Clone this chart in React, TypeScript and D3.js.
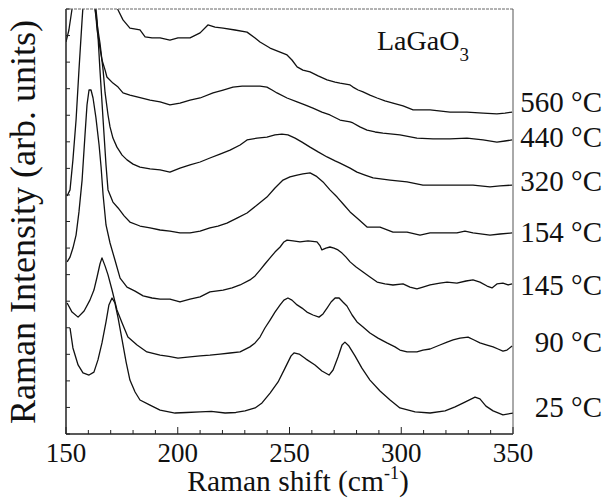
import React from "react";
import * as d3 from "d3";

type P = [number, number];

const xTicks = [150, 200, 250, 300, 350];
const minorStep = 10;
const yTickCount = 16;

const labels = ["560 °C", "440 °C", "320 °C", "154 °C", "145 °C", "90 °C", "25 °C"];
const labelBaselines = [112, 147, 191, 242, 295, 352, 417];

const s25: P[] = [
  [151.8,3.99],[153.1,3.24],[155.4,2.6],[157.6,2.3],[160.3,2.22],[162.5,2.33],[164.3,2.79],[166.1,3.43],[167.9,4.22],[169.2,4.86],[170.6,5.12],[171.9,4.93],[173.3,4.37],[175.1,3.54],[176.9,2.71],[178.6,2.03],[180.9,1.58],[183.1,1.28],[187.6,1.09],[192.1,0.9],[198.8,0.79],[204,0.81],[210,0.83],[215,0.85],[221.2,0.79],[226,0.81],[230.1,0.87],[234.6,0.98],[237.7,1.17],[241.3,1.54],[244.9,1.96],[248,2.48],[250.7,2.94],[252,3.05],[254.3,3.01],[257.4,2.82],[261.4,2.6],[264.5,2.37],[267.7,2.22],[269.5,2.41],[271.7,2.9],[273.5,3.35],[274.8,3.46],[276.6,3.31],[279.3,2.94],[282.4,2.48],[286,2.03],[290.5,1.62],[295,1.28],[299.4,0.98],[306.2,0.83],[312.9,0.79],[319.6,0.87],[324.1,1.02],[328.5,1.2],[333,1.39],[335.2,1.32],[337.9,1.05],[341.1,0.87],[345.5,0.72],[350,0.79]
];

const s90: P[] = [
  [150.5,4.93],[152.7,4.59],[155.4,4.4],[158.1,4.63],[160.7,5.04],[162.5,5.42],[163.9,5.91],[165.2,6.4],[166.1,6.63],[167.5,6.32],[168.8,5.99],[170.6,5.42],[172.8,4.67],[175.1,4.18],[177.7,3.65],[181.8,3.35],[186.2,3.09],[192.1,2.97],[196,2.92],[200.1,2.86],[205.5,2.9],[210,2.94],[214.4,2.97],[218.9,3.01],[223.4,3.05],[227.9,3.09],[232.3,3.28],[234.6,3.43],[236.8,3.65],[239,3.99],[241.3,4.29],[243.5,4.59],[245.8,4.86],[247.5,5.04],[249.3,5.12],[251.1,5.04],[253.4,4.86],[255.6,4.74],[257.8,4.59],[260.5,4.48],[263.2,4.4],[265,4.52],[266.8,4.74],[268.6,4.97],[270.4,5.12],[272.2,5.12],[273.9,4.97],[275.7,4.82],[278,4.48],[280.2,4.22],[282.9,4.03],[286,3.8],[289.6,3.61],[293.6,3.43],[297.2,3.28],[299.4,3.16],[302.6,3.09],[307,3.09],[309.7,3.16],[312.9,3.2],[317.3,3.35],[320.5,3.46],[323.2,3.54],[326.3,3.61],[329.9,3.65],[332.6,3.54],[335.2,3.43],[338.4,3.35],[341.1,3.28],[343.3,3.2],[345.5,3.12],[347.3,3.16],[349.6,3.31]
];

const s145: P[] = [
  [150.5,6.48],[151.8,6.66],[153.1,7.0],[154.5,7.49],[155.8,8.36],[157.2,9.56],[158.5,11.26],[159.4,12.39],[160.3,12.95],[161.2,12.95],[162.1,12.65],[163.4,11.9],[164.8,10.88],[165.7,10.05],[166.6,9.0],[167.9,7.87],[169.7,7.19],[171.9,6.55],[174.2,5.87],[177.3,5.53],[180.9,5.38],[184.5,5.2],[188.5,5.12],[192.1,5.08],[196.5,5.08],[201,4.97],[205.5,5.08],[210,5.16],[214.4,5.35],[220.3,5.42],[224.3,5.5],[227.9,5.61],[232.3,5.8],[234.6,5.95],[236.8,6.17],[239,6.4],[241.3,6.63],[243.5,6.85],[245.8,7.04],[247.5,7.23],[248.9,7.3],[251.6,7.27],[254.7,7.23],[258.3,7.27],[262.3,7.23],[263.7,7.08],[264.5,6.93],[266.3,7.0],[268.1,7.04],[269.9,7.0],[271.7,6.93],[273.5,6.81],[275.3,6.66],[277.1,6.48],[279.8,6.29],[282.9,6.1],[286,5.91],[289.2,5.72],[292.7,5.65],[296.3,5.61],[300.8,5.65],[303.9,5.53],[307,5.46],[309.7,5.53],[312.9,5.61],[317.3,5.68],[320.5,5.72],[324.9,5.68],[329,5.76],[332.1,5.8],[335.2,5.72],[338.4,5.57],[340.6,5.5],[342.8,5.65],[345.5,5.68],[347.8,5.61],[349.6,5.65]
];

const s154: P[] = [
  [150.5,8.96],[151.8,9.19],[153.1,10.32],[154.5,11.82],[155.8,13.7],[157.2,15.59],[158.1,16.72],[159.8,18.6],[161.2,18.6],[162.5,16.72],[163.9,15.59],[165.2,13.7],[166.6,11.82],[167.9,10.13],[168.8,9.19],[171,8.73],[173.3,8.51],[176,8.21],[178.6,7.98],[183.1,7.83],[187.6,7.76],[192.1,7.68],[196.5,7.64],[201,7.57],[205.5,7.57],[210,7.64],[214.4,7.76],[218,7.83],[222,7.94],[226.5,8.13],[231,8.32],[235.5,8.62],[239.9,8.92],[243.5,9.26],[247.1,9.56],[250.2,9.68],[253.4,9.75],[256,9.79],[259.2,9.83],[261.9,9.71],[265,9.49],[268.1,9.19],[271.3,8.92],[274.4,8.62],[277.1,8.36],[280.2,8.13],[284.7,7.79],[290.5,7.79],[296.3,7.6],[302.6,7.6],[308.4,7.49],[312.9,7.57],[317.3,7.57],[324.9,7.57],[328.5,7.64],[332.1,7.57],[339.7,7.49],[344.2,7.53],[349.6,7.57]
];

const s320: P[] = [
  [150,14.76],[151.3,15.21],[152.7,16.0],[154,17.47],[156.3,20.1],[159,20.1],[161.6,16.72],[163,15.96],[164.3,15.21],[165.2,14.72],[166.6,13.7],[167.5,12.84],[168.8,12.01],[169.7,11.56],[171,11.14],[172.8,10.8],[175.1,10.5],[177.3,10.32],[180,10.16],[183.1,10.05],[187.6,9.98],[192.1,9.94],[196.5,9.86],[201,10.01],[205.5,10.13],[210,10.24],[214.4,10.39],[218.9,10.54],[223.4,10.69],[227.9,10.88],[231,11.07],[235.5,11.14],[239.9,11.18],[243.5,11.26],[246.6,11.29],[249.3,11.26],[252.5,11.14],[255.6,10.99],[259.2,10.8],[262.8,10.62],[266.8,10.43],[270.4,10.28],[272.6,10.2],[277.1,10.01],[280.2,9.86],[283.8,9.75],[287.4,9.64],[295,9.56],[302.6,9.49],[309.7,9.37],[317.3,9.37],[324.9,9.37],[332.1,9.37],[339.7,9.3],[344.2,9.34],[349.6,9.37]
];

const s440: P[] = [
  [150,17.84],[158.5,21.99],[161.6,17.09],[163,16.15],[163.9,15.21],[165.2,14.53],[166.1,14.08],[167.5,13.7],[168.3,13.44],[171,13.21],[173.3,13.06],[175.5,12.84],[178.6,12.76],[181.8,12.69],[187.6,12.57],[192.1,12.5],[196.5,12.39],[201,12.46],[205.5,12.57],[210,12.65],[215.8,12.84],[220.3,12.95],[224.7,13.06],[228.8,13.1],[232.3,13.1],[236.8,13.1],[239.9,13.06],[242.2,12.95],[244.4,12.84],[248.9,12.65],[253.4,12.5],[256.9,12.39],[260.5,12.27],[264.5,12.12],[268.1,12.01],[272.6,11.82],[277.1,11.75],[278.4,11.71],[281.5,11.56],[284.7,11.44],[288.3,11.37],[291.8,11.33],[299.4,11.26],[307,11.14],[314.2,11.11],[321.8,11.11],[329.4,11.14],[336.6,11.07],[342.8,10.99],[346.4,11.03],[349.6,11.07]
];

const s560: P[] = [
  [150,19.35],[159.8,23.87],[169.7,17.47],[171.9,16.34],[173.3,15.96],[175.5,15.59],[178.6,15.28],[183.1,15.21],[185.4,14.95],[188.5,14.91],[192.1,14.91],[196.5,14.83],[200.1,14.91],[205.5,14.91],[210,15.1],[213.5,15.4],[216.7,15.32],[220.3,15.28],[225.6,15.21],[231,15.13],[234.6,14.91],[236.8,14.76],[241.3,14.53],[245.8,14.38],[248.9,14.27],[251.1,14.08],[253.4,13.82],[256,13.7],[259.2,13.63],[262.8,13.48],[266.8,13.33],[270.4,13.25],[272.6,13.21],[277.1,13.14],[278.4,13.06],[280.7,12.95],[282.9,12.88],[286,12.76],[289.2,12.65],[292.7,12.54],[296.3,12.46],[300.8,12.35],[305.3,12.2],[312.9,12.2],[321.8,12.12],[329.4,12.12],[336.6,12.08],[342.8,12.05],[346.4,12.08],[349.6,12.12]
];

const seriesList = [s560, s440, s320, s154, s145, s90, s25];

const W = 606;
const H = 498;
const M = { left: 66, right: 513, top: 9, bottom: 434 };
const FONT = '"Liberation Serif", "Times New Roman", Times, Tinos, "DejaVu Serif", serif';
const txt = { fontFamily: FONT, fill: "#111" } as React.CSSProperties;

export default function App() {
  const x = d3.scaleLinear().domain([150, 350]).range([M.left, M.right]);
  const y = d3.scaleLinear().domain([0, yTickCount]).range([M.bottom, M.top]);
  const line = d3
    .line<P>()
    .x((d) => x(d[0]))
    .y((d) => y(d[1]))
    .curve(d3.curveLinear);

  const minor = d3.range(150, 351, minorStep);
  const yT = d3.range(0, yTickCount + 1, 1);

  return (
    <svg
      width={W}
      height={H}
      style={{ position: "absolute", left: 0, top: 0, background: "#fff" }}
    >
      <defs>
        <clipPath id="plotclip">
          <rect x={M.left} y={M.top} width={M.right - M.left} height={M.bottom - M.top} />
        </clipPath>
      </defs>
      <rect x={0} y={0} width={W} height={H} fill="#fff" />
      <g clipPath="url(#plotclip)">
        {seriesList.map((s, i) => (
          <path key={i} d={line(s) || ""} fill="none" stroke="#111" strokeWidth={1.3} strokeLinejoin="round" />
        ))}
      </g>
      <line x1={M.left} x2={M.left} y1={M.top} y2={M.bottom} stroke="#222" strokeWidth={1.5} />
      <line x1={M.left} x2={M.right} y1={M.bottom} y2={M.bottom} stroke="#222" strokeWidth={1.5} />
      <line x1={M.left} x2={M.right} y1={M.top} y2={M.top} stroke="#666" strokeWidth={1} strokeDasharray="3 1" />
      <line x1={M.right} x2={M.right} y1={M.top} y2={M.bottom} stroke="#555" strokeWidth={1} />
      {minor.map((t) => (
        <line
          key={"bx" + t}
          x1={x(t)}
          x2={x(t)}
          y1={M.bottom}
          y2={M.bottom - (t % 50 === 0 ? 7 : 4)}
          stroke="#222"
          strokeWidth={1}
        />
      ))}
      {yT.map((t) => (
        <line key={"ly" + t} x1={M.left} x2={M.left + 4} y1={y(t)} y2={y(t)} stroke="#222" strokeWidth={1} />
      ))}
      {xTicks.map((t) => (
        <text key={"xl" + t} x={x(t)} y={462} fontSize={27} textAnchor="middle" style={txt}>
          {t}
        </text>
      ))}
      <text x={298} y={491} fontSize={29.5} textAnchor="middle" style={txt}>
        Raman shift (cm
        <tspan fontSize={18} dy={-12}>-1</tspan>
        <tspan dy={12}>)</tspan>
      </text>
      <text
        transform={`translate(35, 222) rotate(-90)`}
        fontSize={36}
        textAnchor="middle"
        style={txt}
      >
        Raman Intensity (arb. units)
      </text>
      <text x={377} y={50} fontSize={28} style={txt}>
        LaGaO
        <tspan fontSize={19} dy={11}>3</tspan>
      </text>
      {labels.map((l, i) => (
        <text key={l} x={602} y={labelBaselines[i]} fontSize={29} textAnchor="end" style={txt}>
          {l}
        </text>
      ))}
    </svg>
  );
}
